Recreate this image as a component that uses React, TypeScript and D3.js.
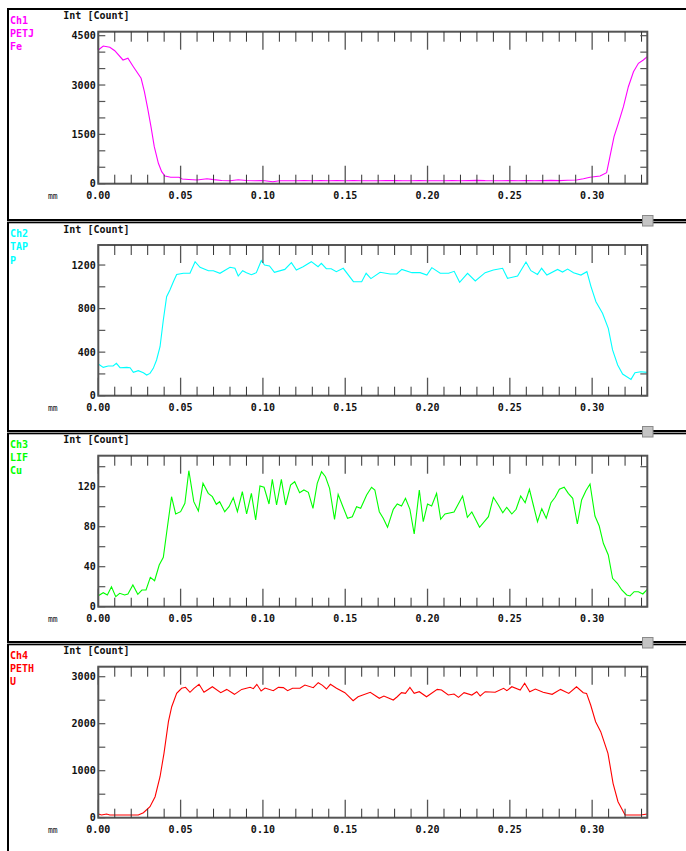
import React from 'react';
import * as d3 from 'd3';

// ---------- data ----------
const channelNames = ['Ch1', 'Ch2', 'Ch3', 'Ch4'];
const crystals = ['PETJ', 'TAP', 'LIF', 'PETH'];
const elements = ['Fe', 'P', 'Cu', 'U'];
const colors = ['#ff00ff', '#00ffff', '#00ff00', '#ff0000'];

const xMajorTicks = [0, 0.05, 0.1, 0.15, 0.2, 0.25, 0.3];
const xMajorLabels = ['0.00', '0.05', '0.10', '0.15', '0.20', '0.25', '0.30'];
const xMinorTicks = [0.01, 0.02, 0.03, 0.04, 0.06, 0.07, 0.08, 0.09, 0.11, 0.12, 0.13, 0.14, 0.16, 0.17, 0.18, 0.19, 0.21, 0.22, 0.23, 0.24, 0.26, 0.27, 0.28, 0.29, 0.31, 0.32, 0.33];
const xDomainMax = 0.3335;

const yMax = [4621, 1384, 151, 3213];
const yLabelTicks = [
  [0, 1500, 3000, 4500],
  [0, 400, 800, 1200],
  [0, 40, 80, 120],
  [0, 1000, 2000, 3000],
];
const yMinorTicks = [
  [500, 1000, 2000, 2500, 3500, 4000],
  [200, 600, 1000],
  [20, 60, 100, 140],
  [500, 1500, 2500],
];

const feX = [0, 0.003, 0.007, 0.010, 0.015, 0.018, 0.021, 0.026, 0.028, 0.030, 0.032, 0.034, 0.0365, 0.0385, 0.0405, 0.044, 0.049, 0.051, 0.055, 0.060, 0.066, 0.070, 0.075, 0.080, 0.085, 0.090, 0.095, 0.100, 0.106, 0.110, 0.115, 0.120, 0.125, 0.130, 0.135, 0.140, 0.145, 0.150, 0.155, 0.160, 0.165, 0.170, 0.175, 0.180, 0.185, 0.190, 0.195, 0.200, 0.205, 0.210, 0.215, 0.220, 0.225, 0.230, 0.235, 0.240, 0.245, 0.250, 0.255, 0.260, 0.265, 0.270, 0.275, 0.280, 0.285, 0.2905, 0.2947, 0.2987, 0.3048, 0.3088, 0.3108, 0.3133, 0.3159, 0.319, 0.322, 0.3251, 0.3281, 0.3311, 0.3335];
const feY = [4065, 4187, 4147, 4044, 3761, 3813, 3579, 3204, 2797, 2292, 1733, 1125, 620, 365, 234, 195, 195, 143, 130, 112, 152, 124, 95, 91, 122, 95, 91, 95, 61, 91, 88, 91, 95, 88, 92, 90, 95, 88, 92, 91, 90, 88, 92, 95, 90, 88, 92, 91, 88, 90, 95, 88, 92, 100, 92, 91, 88, 95, 90, 92, 88, 92, 100, 95, 105, 112, 150, 195, 234, 334, 821, 1429, 1836, 2341, 2949, 3405, 3661, 3761, 3861];

const pX = [0, 0.003, 0.006, 0.009, 0.011, 0.0132, 0.0173, 0.0193, 0.0213, 0.0243, 0.0274, 0.0294, 0.0314, 0.0334, 0.0354, 0.0375, 0.0395, 0.0415, 0.0435, 0.0456, 0.0476, 0.0517, 0.0557, 0.0588, 0.0618, 0.0669, 0.0699, 0.0739, 0.080, 0.083, 0.085, 0.0877, 0.090, 0.093, 0.096, 0.099, 0.101, 0.104, 0.107, 0.1133, 0.1173, 0.1203, 0.1244, 0.1294, 0.1335, 0.1355, 0.1385, 0.1415, 0.1446, 0.1488, 0.155, 0.160, 0.1627, 0.1656, 0.1712, 0.1773, 0.1813, 0.1844, 0.1905, 0.1955, 0.1996, 0.2026, 0.2077, 0.2128, 0.2162, 0.2195, 0.2243, 0.229, 0.235, 0.240, 0.2456, 0.2486, 0.2547, 0.2598, 0.2628, 0.2668, 0.2693, 0.2725, 0.2790, 0.2820, 0.2851, 0.2887, 0.2932, 0.2968, 0.2993, 0.3023, 0.3063, 0.3098, 0.3124, 0.3155, 0.3185, 0.3236, 0.326, 0.3296, 0.3335];
const pY = [291, 260, 273, 273, 297, 257, 260, 257, 215, 230, 211, 190, 205, 251, 328, 450, 695, 909, 971, 1047, 1114, 1124, 1124, 1231, 1179, 1148, 1148, 1124, 1179, 1170, 1099, 1148, 1130, 1111, 1130, 1240, 1200, 1191, 1133, 1160, 1222, 1154, 1185, 1231, 1185, 1215, 1166, 1166, 1139, 1170, 1047, 1047, 1124, 1075, 1133, 1118, 1118, 1160, 1130, 1130, 1108, 1176, 1124, 1124, 1142, 1041, 1124, 1054, 1130, 1154, 1170, 1078, 1099, 1228, 1148, 1114, 1170, 1108, 1160, 1136, 1163, 1130, 1108, 1139, 1002, 863, 757, 619, 420, 282, 199, 150, 211, 220, 214];

const cuX = [0, 0.003, 0.0055, 0.008, 0.0106, 0.013, 0.016, 0.018, 0.021, 0.024, 0.0265, 0.029, 0.0316, 0.0342, 0.037, 0.0395, 0.042, 0.0445, 0.047, 0.050, 0.0526, 0.055, 0.058, 0.0608, 0.0636, 0.0668, 0.0693, 0.0717, 0.0737, 0.0768, 0.0794, 0.082, 0.0845, 0.0875, 0.0901, 0.093, 0.0956, 0.0982, 0.1007, 0.1037, 0.1057, 0.1083, 0.1112, 0.1138, 0.1168, 0.1193, 0.1223, 0.1249, 0.1276, 0.1304, 0.1330, 0.1356, 0.138, 0.1405, 0.1435, 0.1457, 0.1486, 0.1514, 0.1543, 0.1569, 0.1594, 0.163, 0.166, 0.168, 0.1707, 0.1731, 0.1757, 0.1792, 0.1816, 0.1842, 0.1866, 0.1893, 0.1919, 0.195, 0.1974, 0.200, 0.2025, 0.2055, 0.208, 0.2106, 0.2161, 0.2213, 0.2242, 0.2269, 0.2316, 0.237, 0.240, 0.243, 0.2457, 0.2481, 0.2512, 0.2538, 0.2566, 0.2593, 0.2619, 0.2644, 0.2668, 0.2694, 0.2721, 0.275, 0.2775, 0.2801, 0.283, 0.2855, 0.2882, 0.291, 0.2936, 0.2962, 0.2987, 0.3017, 0.3043, 0.3068, 0.3098, 0.3124, 0.3153, 0.318, 0.321, 0.323, 0.3255, 0.3281, 0.3308, 0.3335];
const cuY = [11, 14, 11.7, 20, 10, 13.4, 11.7, 12.7, 21.7, 12.4, 16.7, 16.7, 29.4, 26, 41.7, 49.4, 80, 110, 92.7, 95, 103.4, 136, 105, 95.7, 123.4, 113.4, 110, 102.4, 105, 95, 100, 109, 95, 115, 92.7, 113.4, 86.7, 120.7, 119.4, 102.7, 127.4, 101.7, 127.4, 101.7, 121.7, 125, 114, 116.7, 114.4, 98.4, 123.4, 135, 130, 118.4, 87.4, 112.4, 100, 88.4, 90, 100, 98.4, 111.7, 119.4, 116.7, 95, 88.4, 79.4, 97.4, 102.7, 100.7, 108.4, 97.4, 72.7, 116.7, 85, 102.7, 100.7, 113.4, 87.4, 92.7, 94.7, 110.7, 89.4, 94.7, 79.4, 90, 109.4, 101.7, 94, 99.4, 92.7, 97.4, 110.7, 104, 117.4, 100.7, 85, 98, 88.4, 104, 109.4, 117.4, 119.4, 113.4, 108.4, 82.7, 106.7, 116, 122.7, 90.7, 80.7, 63.4, 51.7, 28.4, 23.4, 16.7, 11.7, 10.7, 15, 15, 12.7, 17.4];

const uX = [0, 0.002, 0.005, 0.007, 0.0152, 0.0243, 0.0274, 0.0314, 0.0345, 0.0375, 0.0399, 0.0426, 0.0446, 0.0476, 0.0506, 0.053, 0.0557, 0.0581, 0.0612, 0.0642, 0.0693, 0.0744, 0.078, 0.0827, 0.0871, 0.0922, 0.0942, 0.0963, 0.0989, 0.1013, 0.1063, 0.1094, 0.1124, 0.115, 0.118, 0.1225, 0.1255, 0.1306, 0.1336, 0.1362, 0.1386, 0.141, 0.1447, 0.1498, 0.1548, 0.1578, 0.1652, 0.1707, 0.1735, 0.1792, 0.1816, 0.1842, 0.1866, 0.1893, 0.1919, 0.195, 0.1994, 0.2059, 0.2085, 0.2126, 0.2161, 0.2188, 0.2222, 0.2269, 0.2299, 0.232, 0.235, 0.2411, 0.2462, 0.2482, 0.2512, 0.2563, 0.259, 0.2621, 0.2655, 0.2702, 0.2757, 0.2808, 0.2858, 0.2905, 0.2946, 0.2966, 0.2991, 0.3021, 0.3052, 0.3096, 0.3127, 0.3157, 0.32, 0.3295, 0.3335];
const uY = [79, 57, 79, 57, 57, 57, 106, 234, 447, 872, 1370, 2043, 2362, 2647, 2753, 2774, 2668, 2753, 2838, 2668, 2787, 2660, 2730, 2625, 2730, 2774, 2745, 2838, 2696, 2760, 2703, 2774, 2767, 2703, 2753, 2753, 2823, 2767, 2872, 2816, 2738, 2838, 2753, 2660, 2489, 2574, 2668, 2540, 2589, 2504, 2574, 2660, 2645, 2774, 2645, 2681, 2574, 2730, 2717, 2610, 2632, 2560, 2660, 2610, 2681, 2589, 2681, 2668, 2753, 2703, 2787, 2717, 2860, 2681, 2738, 2668, 2625, 2730, 2645, 2787, 2660, 2645, 2398, 2043, 1830, 1370, 732, 340, 57, 57, 79];

const seriesX = [feX, pX, cuX, uX];
const seriesY = [feY, pY, cuY, uY];

// ---------- layout ----------
const W = 686;
const H = 851;
const plotLeft = 98.3;
const plotRight = 647.3;
const plotTops = [31.7, 245, 455.7, 666.7];
const plotBottoms = [183.7, 395.7, 606.7, 817.7];
const separators = [219, 430, 641];
const FONT = '"DejaVu Sans Mono", "Liberation Mono", monospace';
const AXIS = '#555';

function Panel({ i }: { i: number }) {
  const top = plotTops[i];
  const bottom = plotBottoms[i];
  const x = d3.scaleLinear().domain([0, xDomainMax]).range([plotLeft, plotRight]);
  const y = d3.scaleLinear().domain([0, yMax[i]]).range([bottom, top]);
  const data = seriesX[i].map((v, k) => [v, seriesY[i][k]] as [number, number]);
  const line = d3
    .line<[number, number]>()
    .x((d) => x(d[0]))
    .y((d) => y(d[1]));
  const color = colors[i];
  return (
    <g>
      {/* channel labels */}
      <text x={10} y={top - 8} fill={color} fontFamily={FONT} fontWeight="bold" fontSize={10}>
        {channelNames[i]}
      </text>
      <text x={10} y={top + 5.3} fill={color} fontFamily={FONT} fontWeight="bold" fontSize={10}>
        {crystals[i]}
      </text>
      <text x={10} y={top + 18.6} fill={color} fontFamily={FONT} fontWeight="bold" fontSize={10}>
        {elements[i]}
      </text>
      <text x={63.3} y={top - 12.4} fill="#111" fontFamily={FONT} fontWeight="bold" fontSize={10}>
        Int [Count]
      </text>

      {/* data line */}
      <path d={line(data) || ''} fill="none" stroke={color} strokeWidth={1.1} />

      {/* frame */}
      <rect x={plotLeft} y={top} width={plotRight - plotLeft} height={bottom - top} fill="none" stroke={AXIS} strokeWidth={2} />

      {/* x ticks */}
      {xMinorTicks.map((t) => (
        <g key={'xm' + t}>
          <line x1={x(t)} x2={x(t)} y1={top} y2={top + 10} stroke="#333" strokeWidth={1} />
          <line x1={x(t)} x2={x(t)} y1={bottom} y2={bottom - 9} stroke="#333" strokeWidth={1} />
        </g>
      ))}
      {xMajorTicks.map((t, k) => (
        <g key={'xM' + t}>
          <line x1={x(t)} x2={x(t)} y1={top} y2={top + 18} stroke={AXIS} strokeWidth={1.3} />
          <line x1={x(t)} x2={x(t)} y1={bottom} y2={bottom - 18} stroke={AXIS} strokeWidth={1.3} />
          <text x={x(t)} y={bottom + 15.6} textAnchor="middle" fill="#111" fontFamily={FONT} fontWeight="bold" fontSize={10}>
            {xMajorLabels[k]}
          </text>
        </g>
      ))}
      <text x={48} y={bottom + 15.3} fill="#111" fontFamily={FONT} fontSize={8}>
        mm
      </text>

      {/* y ticks */}
      {yMinorTicks[i].concat(yLabelTicks[i]).map((t) => (
        <g key={'y' + t}>
          <line x1={plotLeft} x2={plotLeft + 7} y1={y(t)} y2={y(t)} stroke={AXIS} strokeWidth={1.2} />
          <line x1={plotRight} x2={plotRight - 7} y1={y(t)} y2={y(t)} stroke={AXIS} strokeWidth={1.2} />
        </g>
      ))}
      {yLabelTicks[i].map((t) => (
        <text key={'yl' + t} x={95.7} y={y(t) + 3.6} textAnchor="end" fill="#111" fontFamily={FONT} fontWeight="bold" fontSize={10}>
          {t}
        </text>
      ))}
    </g>
  );
}

export default function App() {
  return (
    <svg width={W} height={H} style={{ position: 'absolute', left: 0, top: 0, background: '#fff' }}>
      <rect x={0} y={0} width={W} height={H} fill="#fff" />
      {/* outer frame */}
      <rect x={7} y={8} width={W - 7} height={2} fill="#000" />
      <rect x={7} y={8} width={2} height={H - 8} fill="#000" />
      {separators.map((s) => (
        <g key={'sep' + s}>
          <rect x={7} y={s} width={W - 7} height={2} fill="#000" />
          <rect x={7} y={s + 2} width={W - 7} height={1} fill="#999" />
          <rect x={7} y={s + 3} width={W - 7} height={1.3} fill="#000" />
          <rect x={642.5} y={s - 3.5} width={10.5} height={10.5} fill="#c4c4c4" stroke="#8a8a8a" strokeWidth={1} />
        </g>
      ))}
      {[0, 1, 2, 3].map((i) => (
        <Panel key={i} i={i} />
      ))}
    </svg>
  );
}
